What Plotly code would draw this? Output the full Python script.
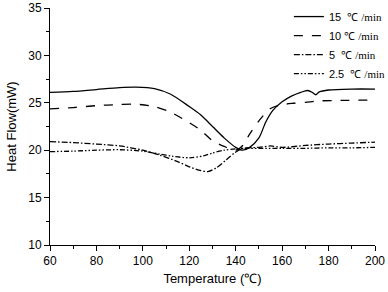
import plotly.graph_objects as go

# ---- data ----
t15 = [60, 70, 80, 90, 97, 105, 112, 120, 125, 130, 135, 140, 143, 146, 150, 153, 156, 160, 164, 168, 171, 173, 174.5, 176, 180, 190, 200]
v15 = [26.1, 26.2, 26.4, 26.6, 26.65, 26.5, 25.9, 24.6, 23.7, 22.5, 21.3, 20.3, 20.0, 20.3, 21.3, 23.0, 24.2, 25.1, 25.7, 26.1, 26.3, 26.1, 25.85, 26.15, 26.35, 26.45, 26.45]

t10 = [60, 70, 80, 90, 97, 105, 112, 120, 125, 130, 135, 140, 143, 146, 150, 155, 160, 165, 170, 176, 185, 200]
v10 = [24.35, 24.5, 24.7, 24.82, 24.85, 24.6, 24.0, 22.9, 22.1, 21.0, 20.4, 20.0, 20.5, 21.7, 23.1, 24.4, 24.8, 24.95, 25.05, 25.2, 25.25, 25.3]

t5 = [60, 70, 80, 90, 100, 107, 115, 120, 124, 128, 132, 136, 140, 143, 150, 155, 160, 170, 180, 190, 200]
v5 = [20.9, 20.8, 20.65, 20.45, 20.0, 19.5, 18.8, 18.25, 17.9, 17.75, 18.2, 19.0, 19.8, 20.2, 20.3, 20.45, 20.3, 20.5, 20.65, 20.75, 20.85]

t25 = [60, 70, 80, 90, 100, 107, 113, 120, 126, 130, 135, 140, 145, 150, 160, 170, 180, 190, 200]
v25 = [19.85, 19.9, 20.0, 20.05, 19.9, 19.6, 19.35, 19.2, 19.4, 19.7, 20.0, 20.15, 20.2, 20.2, 20.2, 20.2, 20.25, 20.25, 20.3]

series_names = ["15  ℃ ", "10 ℃ ", "5  ℃ ", "2.5  ℃ "]
dashes = ["solid", "dash", "6px,2px,1.5px,2px", "5px,2px,1.5px,2px,1.5px,2px"]

fig = go.Figure()
for (t, v), name, d in zip([(t15, v15), (t10, v10), (t5, v5), (t25, v25)], series_names, dashes):
    fig.add_trace(go.Scatter(
        x=t, y=v, mode="lines", line=dict(color="black", width=1.3, dash=d, shape="spline", smoothing=0.8),
        name=name + '<span style="font-family:Liberation Serif">/min</span>'))

axis_common = dict(showline=True, linecolor="black", linewidth=1, ticks="outside", ticklen=5,
                   tickcolor="black", showgrid=False, zeroline=False, mirror=False, automargin=False,
                   tickfont=dict(size=12, color="black"))
fig.update_xaxes(range=[60, 200], dtick=20, tick0=60,
                 minor=dict(ticks="outside", ticklen=3, dtick=10, tickcolor="black"),
                 title=dict(text="Temperature (℃)", font=dict(size=13, color="black"), standoff=6),
                 **axis_common)
fig.update_yaxes(range=[10, 35], dtick=5, tick0=10,
                 minor=dict(ticks="outside", ticklen=3, dtick=2.5, tickcolor="black"),
                 title=dict(text="Heat Flow(mW)", font=dict(size=13, color="black"), standoff=8),
                 **axis_common)

fig.update_layout(
    width=388, height=292,
    margin=dict(l=50, r=13, t=8, b=47, autoexpand=False),
    paper_bgcolor="white", plot_bgcolor="white",
    font=dict(family="Liberation Sans, Arial, sans-serif", color="black"),
    legend=dict(x=0.735, y=1.025, xanchor="left", yanchor="top", bgcolor="rgba(0,0,0,0)",
                font=dict(size=11, color="black"), itemwidth=30, tracegroupgap=0),
)

fig.write_html("out.html", config={"displayModeBar": False},
               post_script="document.body.style.margin='0px';")
